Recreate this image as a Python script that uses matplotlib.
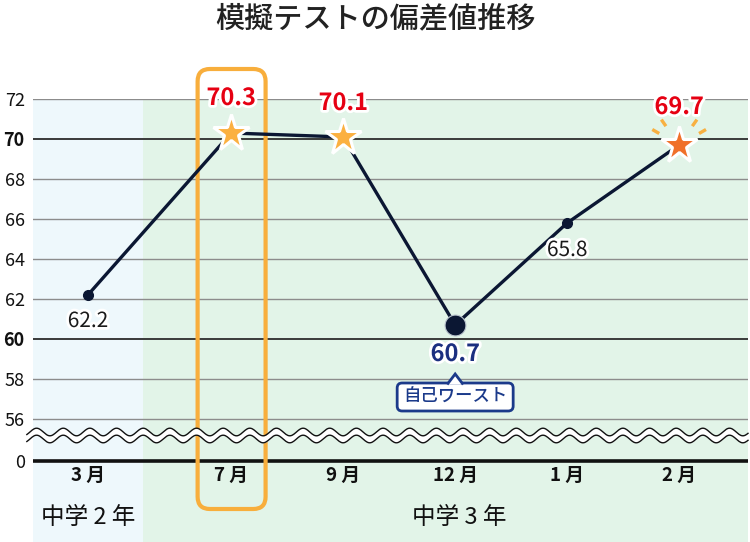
import matplotlib
matplotlib.use('Agg')
import matplotlib.pyplot as plt
import matplotlib.patheffects as pe
import numpy as np
from matplotlib.patches import FancyBboxPatch, Polygon
from matplotlib.transforms import Affine2D, ScaledTranslation

plt.rcParams['font.family'] = ['Noto Sans CJK JP', 'DejaVu Sans']

# data
months = ['3 月', '7 月', '9 月', '12 月', '1 月', '2 月']
scores = [62.2, 70.3, 70.1, 60.7, 65.8, 69.7]
x_pos = [0, 1.28, 2.28, 3.28, 4.28, 5.28]   # gap between the two school years
grades = ['中学 2 年', '中学 3 年']
grade_x = [0, 3.32]
ytick_vals = [56, 58, 60, 62, 64, 66, 68, 70, 72]
zero_y = 53.9   # where "0" is drawn below the axis break

navy = '#0b1733'
red = '#e60012'
label_navy = '#1b2f80'

fig = plt.figure(figsize=(7.5, 5.42), dpi=100)
ax = fig.add_axes([33 / 750, 0, 715 / 750, 443 / 542])
ax.set_xlim(-0.49, 5.895)
ax.set_ylim(49.85, 72)
for s in ax.spines.values():
    s.set_visible(False)


def px(x, y):
    # pixel offsets around a data point
    return Affine2D().scale(1 / fig.dpi) + fig.dpi_scale_trans + ScaledTranslation(x, y, ax.transData)


# backgrounds for the two school years
ax.axvspan(-0.49, 0.49, color='#eef8fc', zorder=0, lw=0)
ax.axvspan(0.49, 5.895, color='#e2f4e8', zorder=0, lw=0)

# grid
for v in ytick_vals:
    dark = v in (60, 70)
    ax.axhline(v, color='#3a3a3a' if dark else '#8c8c8c', lw=1.4 if dark else 1.0, zorder=1)
ax.axhline(zero_y, color='#111111', lw=2.6, zorder=1)

ax.set_xticks([])
ax.set_yticks([zero_y] + ytick_vals)
ax.set_yticklabels(['0'] + [str(v) for v in ytick_vals])
ax.tick_params(axis='y', length=0, pad=6, labelsize=13, labelcolor='#111111')
for t in ax.get_yticklabels():
    if t.get_text() in ('60', '70'):
        t.set_fontweight('bold')

# orange highlight around July
hx = x_pos[1]
ax.add_patch(FancyBboxPatch((hx - 0.3, 51.5), 0.607, 22.0,
                            boxstyle='round,pad=0,rounding_size=0.11', mutation_aspect=5.6,
                            fc='none', ec='#f8ae3c', lw=3, zorder=4, clip_on=False))

# axis break (double wave)
xs = np.linspace(-0.545, 5.895, 800)
wave = 0.19 * np.cos(2 * np.pi * (xs + 0.458) / 0.238)
ax.fill_between(xs, 55.0 + wave, 55.35 + wave, color='white', zorder=5, lw=0, clip_on=False)
ax.plot(xs, 55.35 + wave, color='#111111', lw=1.0, zorder=6, clip_on=False)
ax.plot(xs, 55.0 + wave, color='#111111', lw=1.0, zorder=6, clip_on=False)

# line and markers
ax.plot(x_pos, scores, color=navy, lw=2.4, zorder=7, solid_capstyle='round')
for i in (0, 4):
    ax.plot(x_pos[i], scores[i], 'o', ms=7, color=navy, zorder=8)
ax.plot(x_pos[3], scores[3], 'o', ms=15, color=navy, mec='#b8c2cc', mew=0.8, zorder=8)
for i in (1, 2):
    ax.plot(x_pos[i], scores[i], '*', ms=28, color='#fbb040', mec='white', mew=2.2, zorder=8)
ax.plot(x_pos[5], scores[5], '*', ms=28, color='#f07029', mec='white', mew=2.2, zorder=8)

# sparkle rays around the latest score
for ang in (150, 125, 30, 55):
    a = np.radians(ang)
    ax.plot([23 * np.cos(a), 31 * np.cos(a)], [23 * np.sin(a), 31 * np.sin(a)],
            color='#f8b040', lw=2.4, solid_capstyle='butt', zorder=8,
            transform=px(x_pos[5], scores[5]), clip_on=False)

# value labels
label_dy = [-26, 35, 34, -29, -27, 38]
for i, (x, y) in enumerate(zip(x_pos, scores)):
    if i in (1, 2, 5):
        color, weight = red, 'bold'
    elif i == 3:
        color, weight = label_navy, 'bold'
    else:
        color, weight = '#1a1a1a', 'normal'
    ax.annotate(f'{y:.1f}', (x, y), xytext=(0, label_dy[i]), textcoords='offset pixels',
                ha='center', va='center', fontsize=17 if weight == 'bold' else 15,
                color=color, fontweight=weight, zorder=9,
                path_effects=[pe.withStroke(linewidth=4, foreground='white')])

# callout under the worst score
tr = px(x_pos[3], scores[3])
ax.add_patch(FancyBboxPatch((-58, -86), 116, 28, boxstyle='round,pad=0,rounding_size=5',
                            fc='white', ec='#1b3a8a', lw=2, zorder=9, transform=tr, clip_on=False))
ax.add_patch(Polygon([(-8, -59.5), (0, -49), (8, -59.5)], closed=False, fc='white',
                     ec='#1b3a8a', lw=2, zorder=10, transform=tr, clip_on=False))
ax.text(0, -72, '自己ワースト', transform=tr, ha='center', va='center', fontsize=12.5,
        fontweight='medium', color='#1b3a8a', zorder=11)

# month and grade labels
for x, m in zip(x_pos, months):
    ax.text(x, 53.2, m, ha='center', va='center', fontsize=13.5, fontweight='bold',
            color='#111111', zorder=3)
for x, g in zip(grade_x, grades):
    ax.text(x, 51.1, g, ha='center', va='center', fontsize=17, color='#111111', zorder=3)

fig.text(0.5, 1 - 19 / 542, '模擬テストの偏差値推移', ha='center', va='center',
         fontsize=21, fontweight='medium', color='#222222')

fig.savefig('out.png', dpi=100)
